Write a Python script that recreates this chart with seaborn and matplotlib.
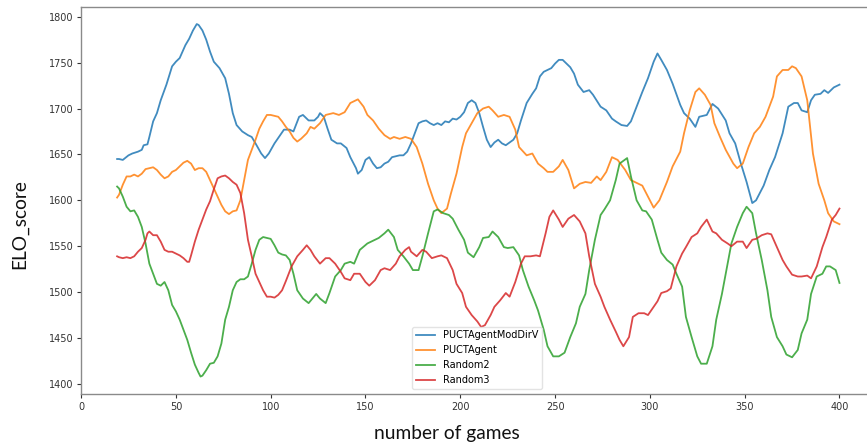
import matplotlib
matplotlib.use("Agg")
import matplotlib.pyplot as plt
import pandas as pd
import seaborn as sns

# ELO rating of each agent over the course of the tournament
series_names = ["PUCTAgentModDirV", "PUCTAgent", "Random2", "Random3"]

moddirv_games = [19, 20, 22, 25, 27, 30, 32, 33, 35, 36, 38, 40, 42, 45, 48, 50, 52, 55, 57, 59,
                 61, 62, 64, 66, 68, 70, 73, 76, 78, 80, 82, 85, 88, 90, 92, 95, 97, 99, 102, 105,
                 107, 110, 112, 115, 117, 120, 123, 125, 126, 128, 130, 132, 135, 137, 140, 142, 145,
                 146, 148, 150, 152, 154, 156, 158, 160, 162, 164, 166, 168, 170, 172, 174, 176, 178,
                 180, 182, 184, 186, 188, 190, 192, 194, 196, 198, 200, 202, 204, 206, 208, 210, 212,
                 214, 216, 218, 220, 222, 224, 226, 228, 230, 232, 235, 238, 240, 242, 244, 246, 248,
                 250, 252, 254, 256, 258, 260, 262, 265, 268, 270, 274, 277, 280, 282, 285, 288, 290,
                 293, 296, 299, 302, 304, 306, 309, 312, 316, 318, 321, 324, 326, 330, 333, 336, 340,
                 342, 345, 348, 351, 354, 356, 360, 363, 366, 370, 373, 376, 378, 380, 383, 385, 387,
                 390, 392, 394, 397, 400]
moddirv_elo = [1645, 1645, 1644, 1649, 1651, 1653, 1655, 1660, 1661, 1669, 1686, 1695, 1709, 1726,
               1746, 1751, 1755, 1769, 1776, 1785, 1792, 1791, 1785, 1775, 1762, 1751, 1744, 1733,
               1716, 1695, 1682, 1675, 1671, 1669, 1662, 1651, 1646, 1651, 1662, 1671, 1677, 1677,
               1675, 1691, 1693, 1687, 1687, 1691, 1695, 1691, 1678, 1666, 1662, 1662, 1657, 1647,
               1635, 1629, 1633, 1644, 1647, 1640, 1635, 1636, 1640, 1642, 1647, 1648, 1649, 1649,
               1653, 1662, 1673, 1684, 1686, 1687, 1684, 1682, 1684, 1682, 1686, 1685, 1689, 1688,
               1691, 1696, 1706, 1709, 1706, 1695, 1680, 1666, 1658, 1663, 1666, 1662, 1660, 1663,
               1666, 1673, 1687, 1706, 1716, 1722, 1735, 1740, 1742, 1744, 1749, 1753, 1753, 1749,
               1745, 1738, 1726, 1718, 1720, 1715, 1702, 1698, 1689, 1686, 1682, 1681, 1686, 1702,
               1718, 1733, 1751, 1760, 1753, 1742, 1727, 1704, 1695, 1689, 1680, 1691, 1693, 1705,
               1700, 1687, 1673, 1662, 1640, 1620, 1597, 1600, 1616, 1633, 1647, 1673, 1702, 1706,
               1706, 1698, 1696, 1709, 1715, 1716, 1720, 1717, 1723, 1726]

puct_games = [19, 20, 22, 24, 26, 28, 30, 32, 34, 36, 38, 40, 42, 44, 46, 48, 50, 52, 54, 56, 58,
              60, 62, 64, 66, 68, 70, 72, 74, 76, 78, 80, 82, 84, 86, 88, 90, 92, 94, 96, 98, 100,
              102, 104, 106, 108, 110, 112, 114, 116, 119, 121, 123, 126, 129, 133, 136, 139, 142,
              146, 149, 151, 154, 157, 160, 163, 165, 168, 171, 174, 177, 180, 183, 186, 188, 190,
              193, 195, 198, 201, 203, 206, 209, 212, 215, 217, 220, 223, 226, 229, 231, 235, 238,
              241, 244, 246, 249, 252, 254, 257, 260, 263, 266, 269, 272, 274, 277, 280, 283, 287,
              290, 294, 296, 299, 302, 305, 309, 312, 316, 318, 321, 324, 326, 329, 332, 334, 337,
              340, 344, 346, 349, 352, 355, 358, 361, 365, 367, 370, 373, 375, 377, 380, 383, 386,
              389, 392, 394, 397, 400]
puct_elo = [1603, 1606, 1617, 1626, 1626, 1628, 1626, 1629, 1634, 1635, 1636, 1633, 1628, 1624,
            1626, 1631, 1633, 1637, 1641, 1643, 1640, 1633, 1635, 1635, 1631, 1622, 1613, 1604,
            1595, 1588, 1585, 1588, 1589, 1600, 1622, 1644, 1655, 1666, 1678, 1686, 1693, 1693,
            1692, 1691, 1686, 1680, 1675, 1668, 1664, 1667, 1673, 1680, 1678, 1684, 1693, 1695,
            1693, 1696, 1706, 1710, 1702, 1693, 1687, 1678, 1671, 1667, 1669, 1667, 1669, 1667,
            1658, 1640, 1618, 1600, 1591, 1586, 1591, 1607, 1629, 1658, 1673, 1684, 1695, 1700,
            1702, 1698, 1691, 1693, 1691, 1677, 1658, 1649, 1651, 1640, 1635, 1631, 1631, 1637,
            1644, 1633, 1613, 1618, 1620, 1619, 1626, 1622, 1631, 1647, 1644, 1633, 1622, 1618,
            1616, 1604, 1592, 1600, 1620, 1637, 1653, 1673, 1698, 1718, 1722, 1715, 1704, 1684,
            1669, 1655, 1640, 1635, 1640, 1658, 1673, 1680, 1691, 1713, 1735, 1742, 1742, 1746,
            1744, 1735, 1709, 1651, 1618, 1600, 1586, 1577, 1574]

random2_games = [19, 20, 22, 24, 26, 28, 30, 32, 34, 36, 38, 40, 42, 44, 46, 48, 50, 52, 54, 56,
                 58, 60, 62, 63, 64, 66, 68, 70, 72, 74, 76, 78, 80, 82, 84, 86, 88, 90, 92, 94,
                 96, 98, 100, 102, 104, 106, 108, 110, 112, 114, 117, 120, 122, 124, 126, 129,
                 131, 134, 137, 139, 142, 144, 147, 151, 153, 157, 160, 162, 165, 167, 170, 173,
                 175, 178, 180, 183, 186, 188, 191, 194, 196, 199, 202, 204, 207, 210, 212, 215,
                 217, 220, 223, 225, 228, 231, 233, 236, 239, 241, 244, 246, 249, 252, 255, 258,
                 261, 263, 266, 268, 271, 274, 276, 279, 282, 284, 288, 290, 293, 296, 298, 301,
                 304, 306, 309, 312, 314, 317, 319, 322, 325, 327, 330, 333, 335, 338, 341, 343,
                 346, 349, 351, 354, 356, 359, 362, 364, 367, 370, 372, 375, 378, 380, 383, 385,
                 388, 391, 393, 395, 398, 400]
random2_elo = [1615, 1613, 1604, 1593, 1588, 1589, 1582, 1571, 1553, 1531, 1520, 1509, 1507, 1511,
               1502, 1486, 1479, 1470, 1459, 1448, 1434, 1421, 1412, 1408, 1409, 1415, 1422, 1423,
               1430, 1444, 1470, 1484, 1502, 1511, 1514, 1514, 1517, 1531, 1546, 1557, 1560, 1559,
               1558, 1551, 1543, 1541, 1540, 1535, 1520, 1502, 1493, 1488, 1493, 1498, 1493, 1488,
               1499, 1517, 1524, 1531, 1533, 1531, 1546, 1553, 1555, 1559, 1564, 1568, 1560, 1546,
               1539, 1531, 1524, 1524, 1539, 1564, 1588, 1590, 1586, 1584, 1580, 1568, 1557, 1543,
               1538, 1549, 1559, 1560, 1566, 1560, 1549, 1548, 1549, 1540, 1524, 1506, 1491, 1480,
               1459, 1441, 1430, 1430, 1434, 1451, 1466, 1484, 1498, 1524, 1557, 1584, 1590, 1600,
               1622, 1640, 1646, 1626, 1600, 1589, 1588, 1579, 1557, 1543, 1535, 1530, 1520, 1506,
               1473, 1451, 1430, 1422, 1422, 1441, 1470, 1498, 1531, 1553, 1571, 1586, 1593, 1586,
               1564, 1535, 1502, 1473, 1451, 1441, 1432, 1429, 1437, 1455, 1470, 1498, 1517, 1520,
               1528, 1528, 1524, 1510]

random3_games = [19, 20, 22, 24, 26, 28, 30, 32, 34, 35, 36, 38, 40, 42, 44, 46, 48, 50, 52, 54,
                 56, 57, 58, 60, 62, 64, 66, 68, 70, 72, 74, 76, 78, 80, 82, 84, 86, 88, 90, 92,
                 94, 96, 98, 100, 102, 104, 106, 108, 111, 114, 117, 119, 121, 123, 126, 129, 131,
                 134, 137, 139, 142, 144, 147, 150, 152, 155, 158, 160, 163, 166, 168, 171, 173,
                 174, 177, 180, 182, 185, 188, 190, 193, 196, 198, 201, 203, 206, 209, 211, 213,
                 216, 218, 221, 224, 226, 229, 232, 234, 237, 240, 242, 245, 247, 249, 252, 254,
                 257, 260, 263, 266, 268, 271, 274, 276, 279, 282, 284, 286, 289, 291, 294, 297,
                 299, 302, 304, 306, 309, 311, 314, 317, 319, 322, 325, 327, 330, 333, 335, 338,
                 341, 343, 346, 349, 351, 354, 356, 359, 362, 364, 367, 370, 372, 375, 378, 380,
                 383, 385, 388, 391, 393, 396, 398, 400]
random3_elo = [1539, 1538, 1537, 1538, 1537, 1539, 1544, 1548, 1557, 1564, 1566, 1562, 1562, 1555,
               1546, 1544, 1544, 1542, 1540, 1537, 1533, 1533, 1540, 1555, 1568, 1579, 1590, 1599,
               1612, 1624, 1626, 1627, 1624, 1620, 1617, 1608, 1586, 1557, 1539, 1520, 1511, 1502,
               1495, 1495, 1494, 1497, 1502, 1512, 1528, 1539, 1546, 1551, 1546, 1539, 1531, 1537,
               1537, 1531, 1522, 1515, 1513, 1520, 1520, 1511, 1507, 1513, 1524, 1526, 1524, 1531,
               1539, 1546, 1549, 1544, 1539, 1546, 1544, 1537, 1539, 1540, 1537, 1524, 1509, 1499,
               1484, 1475, 1468, 1462, 1464, 1475, 1484, 1491, 1499, 1495, 1511, 1531, 1539, 1539,
               1540, 1539, 1564, 1582, 1589, 1579, 1571, 1580, 1584, 1577, 1564, 1539, 1509, 1495,
               1484, 1470, 1457, 1448, 1441, 1451, 1473, 1477, 1477, 1475, 1484, 1490, 1499, 1501,
               1504, 1528, 1542, 1549, 1560, 1564, 1571, 1579, 1566, 1564, 1557, 1553, 1550, 1555,
               1555, 1548, 1557, 1558, 1562, 1564, 1563, 1549, 1535, 1528, 1519, 1517, 1517, 1518,
               1515, 1528, 1549, 1560, 1579, 1584, 1591]

x_ticks = [0, 50, 100, 150, 200, 250, 300, 350, 400]
y_ticks = [1400, 1450, 1500, 1550, 1600, 1650, 1700, 1750, 1800]

frames = []
for name, games, elo in zip(series_names,
                            [moddirv_games, puct_games, random2_games, random3_games],
                            [moddirv_elo, puct_elo, random2_elo, random3_elo]):
    frames.append(pd.DataFrame({"games": games, "elo": elo, "agent": name}))
df = pd.concat(frames, ignore_index=True)

palette = ["#1f77b4", "#ff7f0e", "#2ca02c", "#d62728"]

fig = plt.figure(figsize=(8.67, 4.44), dpi=100)
ax = fig.add_axes([81 / 867, 1 - 394 / 444, 794.6 / 867, 387 / 444])

sns.lineplot(data=df, x="games", y="elo", hue="agent", hue_order=series_names,
             palette=palette, estimator=None, sort=True, linewidth=1.3, alpha=0.85, ax=ax)

ax.set_xlim(-0.05, 419.05)
ax.set_ylim(1389.0, 1810.6)
ax.set_xticks(x_ticks)
ax.set_yticks(y_ticks)
ax.tick_params(labelsize=7, colors="#333333", length=3, pad=2.5, width=0.8)
for spine in ax.spines.values():
    spine.set_color("#8a8a8a")
    spine.set_linewidth(1.0)

ax.set_xlabel("")
ax.set_ylabel("")
fig.text(447 / 867, 1 - 433 / 444, "number of games", ha="center", va="center",
         fontsize=13.8, family=["Lato", "DejaVu Sans"], color="#111111")
fig.text(20 / 867, 1 - 224 / 444, "ELO_score", ha="center", va="center", rotation=90,
         fontsize=13.8, family=["Lato", "DejaVu Sans"], color="#111111")

leg = ax.legend(title=None, fontsize=7, loc="lower left", borderaxespad=0,
                bbox_to_anchor=(0.4166, 0.013), frameon=True)
leg.get_frame().set_edgecolor("#dddddd")
for line in leg.get_lines():
    line.set_linewidth(1.3)

fig.savefig("out.png", dpi=100)
